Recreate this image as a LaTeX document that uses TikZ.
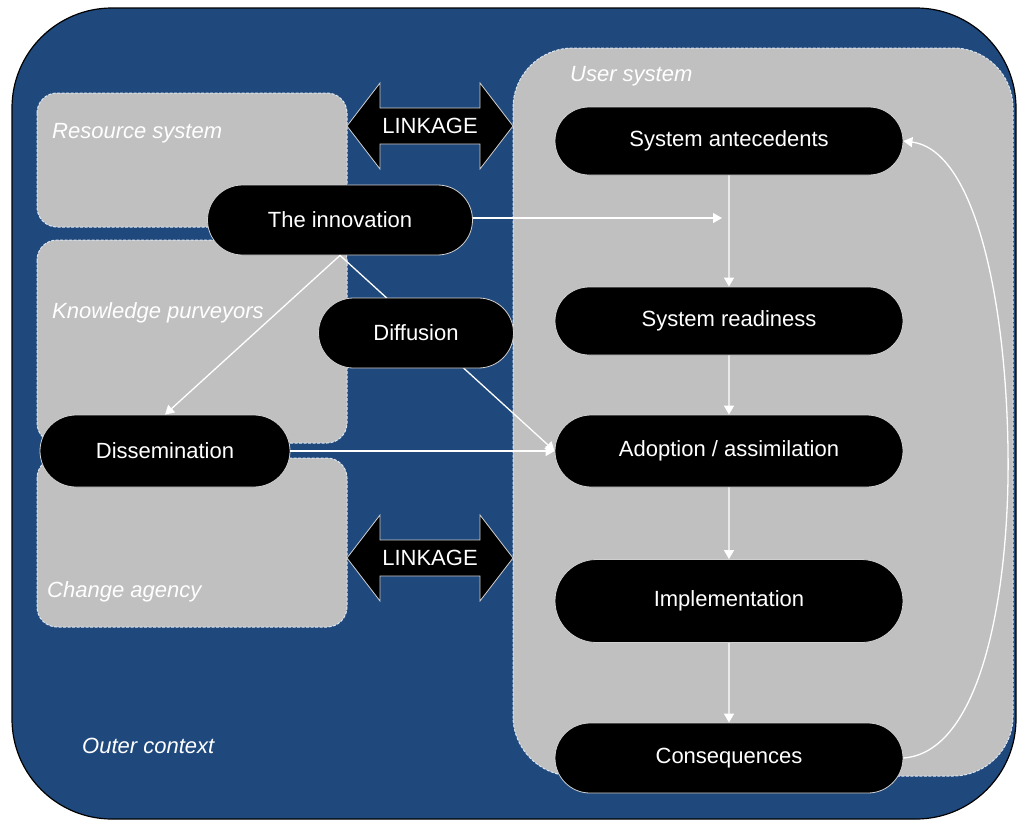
\documentclass[tikz,border=0pt]{standalone}
\usepackage{fontspec}
\setmainfont{Liberation Sans}
\usetikzlibrary{shapes.misc,arrows.meta}
\definecolor{outerblue}{HTML}{1F497D}
\definecolor{panelgrey}{HTML}{C0C0C0}
\definecolor{paneledge}{HTML}{DCE6F2}
\definecolor{pilledge}{HTML}{D0D0D0}
\begin{document}
\begin{tikzpicture}[x=1pt,y=-1pt,
  panel/.style={fill=panelgrey, draw=paneledge, dash pattern=on 3pt off 1.5pt, line width=1pt, rounded corners=20pt},
  pill/.style={rounded rectangle, fill=black, draw=pilledge, line width=0.8pt, text=white,
    font=\fontsize{22}{26}\selectfont, minimum height=70pt, inner sep=0pt},
  flow/.style={draw=white, line width=1.3pt, -{Triangle[width=10pt,length=9pt]}},
  paneltitle/.style={font=\fontsize{22}{26}\selectfont\itshape, text=white, anchor=west, inner sep=0pt},
  linkarrow/.style={fill=black, draw=pilledge, line width=0.8pt},
  linktext/.style={font=\fontsize{22}{26}\selectfont, text=white, inner sep=0pt}
]
\useasboundingbox (0,0) rectangle (1018,822);

% outer context
\draw[fill=outerblue, draw=black, line width=1.2pt, rounded corners=100pt] (12,8) rectangle (1016,819);
\node[paneltitle] (outer) at (82,746) {Outer context};

% left-hand systems
\draw[panel] (37,93) rectangle (347,227);
\node[paneltitle] (res) at (52,133) {Resource system};
\draw[panel] (37,240) rectangle (347,443);
\node[paneltitle] (kp) at (52,313) {Knowledge purveyors};
\draw[panel] (37,458) rectangle (347,627);
\node[paneltitle] (ca) at (47,592) {Change agency};

% user system
\draw[panel, rounded corners=60pt] (513,48) rectangle (1013,776);
\node[paneltitle] (us) at (570,76) {User system};

% linkage arrows
\draw[linkarrow] (347,126) -- (380,83) -- (380,108) -- (480,108) -- (480,83) -- (513,126)
  -- (480,169) -- (480,144) -- (380,144) -- (380,169) -- cycle;
\node[linktext] (link1) at (430,126) {LINKAGE};
\draw[linkarrow] (347,558) -- (380,515) -- (380,540) -- (480,540) -- (480,515) -- (513,558)
  -- (480,601) -- (480,576) -- (380,576) -- (380,601) -- cycle;
\node[linktext] (link2) at (430,558) {LINKAGE};

% process nodes
\node[pill, minimum width=265pt] (inno) at (340,220) {The innovation};
\node[pill, minimum width=250pt, minimum height=72pt] (diss) at (165,451) {Dissemination};
\node[pill, minimum width=348pt, minimum height=68pt] (ante) at (729,141) {System antecedents};
\node[pill, minimum width=348pt, minimum height=68pt] (ready) at (729,321) {System readiness};
\node[pill, minimum width=348pt, minimum height=72pt] (adopt) at (729,451) {Adoption / assimilation};
\node[pill, minimum width=348pt, minimum height=83pt] (impl) at (729,601) {Implementation};
\node[pill, minimum width=348pt] (cons) at (729,758) {Consequences};

\coordinate (join) at (722,218);

% connectors
\draw[flow] (inno.east |- join) -- (join);
\draw[flow] (ante) -- (ready);
\draw[flow] (ready) -- (adopt);
\draw[flow] (adopt) -- (impl);
\draw[flow] (impl) -- (cons);
\draw[flow] (inno.south) -- (diss.north);
\draw[flow] (inno.south) -- (adopt.west);
\draw[flow] (diss.east) -- (adopt.west);
\draw[flow] (cons.east) .. controls (985,752) and (1010,580) .. (1008,450)
  .. controls (1006,300) and (975,150) .. (ante.east);

% diffusion sits over the innovation-to-adoption line
\node[pill, minimum width=195pt] (diff) at (416,333) {Diffusion};
\end{tikzpicture}
\end{document}
